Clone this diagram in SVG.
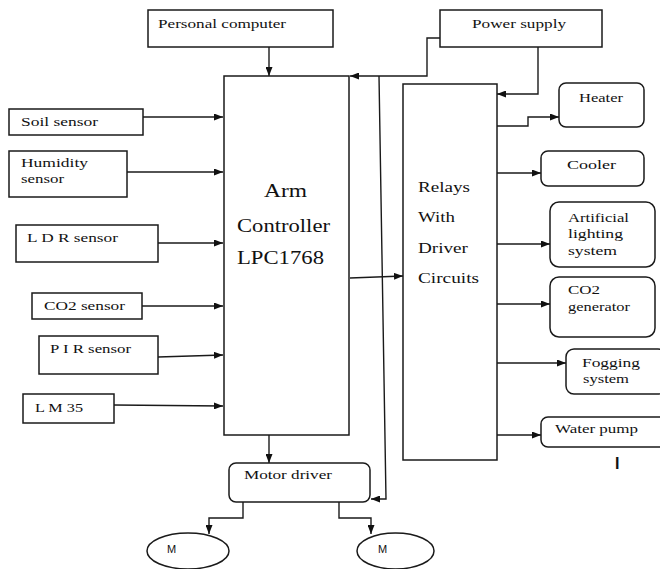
<svg xmlns="http://www.w3.org/2000/svg" width="660" height="569" viewBox="0 0 660 569">
<style>
.box{fill:#fff;stroke:#1a1a1a;stroke-width:1.5}
.t{font-family:'Liberation Serif','DejaVu Serif',serif;font-size:13px;fill:#111}
.big{font-size:18px}
.mid{font-size:14.5px}
.m{font-family:'Liberation Sans',Arial,sans-serif;font-size:11px;fill:#111}
.c{fill:none;stroke:#1a1a1a;stroke-width:1.4}
</style>
<defs>
<marker id="ah" markerUnits="userSpaceOnUse" markerWidth="9" markerHeight="7" refX="9" refY="3.5" orient="auto">
<path d="M0,0 L9,3.5 L0,7 z" fill="#111"/>
</marker>
</defs>
<rect width="660" height="569" fill="#fff"/>

<g id="connectors" class="c" marker-end="url(#ah)">
<path d="M269,47 V76"/>
<path d="M143,117 H223"/>
<path d="M127,172 H223"/>
<path d="M158,243 H223"/>
<path d="M142,306 H223"/>
<path d="M158,357 L223,355"/>
<path d="M114,405 L223,406"/>
<path d="M269,435 V463"/>
<path d="M440,38 H427 V76 H350"/>
<path d="M379,76 L386,499 H371"/>
<path d="M538,47 V94 H497"/>
<path d="M350,278 L403,276"/>
<path d="M497,126 H528 V117 H559"/>
<path d="M497,173 H541"/>
<path d="M497,244 H550"/>
<path d="M497,304 H550"/>
<path d="M497,363 H566"/>
<path d="M497,435 H541"/>
<path d="M243,502 V518 H209 V534"/>
<path d="M339,502 V518 H371 V534"/>
</g>

<g id="personal-computer">
<rect class="box" x="148" y="10" width="185" height="37"/>
<text class="t" font-family="Liberation Serif, serif" x="158" y="28" textLength="128" lengthAdjust="spacingAndGlyphs">Personal computer</text>
</g>
<g id="power-supply">
<rect class="box" x="440" y="10" width="162" height="37"/>
<text class="t" x="472" y="28" textLength="94" lengthAdjust="spacingAndGlyphs">Power supply</text>
</g>
<g id="soil-sensor">
<rect class="box" x="9" y="109" width="134" height="26"/>
<text class="t" x="21" y="126" textLength="77" lengthAdjust="spacingAndGlyphs">Soil sensor</text>
</g>
<g id="humidity-sensor">
<rect class="box" x="9" y="151" width="118" height="46"/>
<text class="t" x="21" y="167" textLength="67" lengthAdjust="spacingAndGlyphs">Humidity</text>
<text class="t" x="21" y="183" textLength="43" lengthAdjust="spacingAndGlyphs">sensor</text>
</g>
<g id="ldr-sensor">
<rect class="box" x="16" y="225" width="142" height="37"/>
<text class="t" x="27" y="242" textLength="91" lengthAdjust="spacingAndGlyphs">L D R  sensor</text>
</g>
<g id="co2-sensor">
<rect class="box" x="32" y="293" width="110" height="26"/>
<text class="t" x="44" y="310" textLength="81" lengthAdjust="spacingAndGlyphs">CO2 sensor</text>
</g>
<g id="pir-sensor">
<rect class="box" x="39" y="336" width="119" height="38"/>
<text class="t" x="50" y="353" textLength="81" lengthAdjust="spacingAndGlyphs">P I R sensor</text>
</g>
<g id="lm35">
<rect class="box" x="23" y="394" width="91" height="29"/>
<text class="t" x="35" y="412" textLength="48" lengthAdjust="spacingAndGlyphs">L M 35</text>
</g>
<g id="arm-controller">
<rect class="box" x="224" y="76" width="125" height="359"/>
<text class="t big" x="264" y="197" textLength="43" lengthAdjust="spacingAndGlyphs">Arm</text>
<text class="t big" x="237" y="232" textLength="93" lengthAdjust="spacingAndGlyphs">Controller</text>
<text class="t big" x="237" y="264" textLength="87" lengthAdjust="spacingAndGlyphs">LPC1768</text>
</g>
<g id="relays">
<rect class="box" x="403" y="84" width="94" height="376"/>
<text class="t mid" x="418" y="192" textLength="52" lengthAdjust="spacingAndGlyphs">Relays</text>
<text class="t mid" x="418" y="222" textLength="37" lengthAdjust="spacingAndGlyphs">With</text>
<text class="t mid" x="418" y="253" textLength="50" lengthAdjust="spacingAndGlyphs">Driver</text>
<text class="t mid" x="418" y="283" textLength="61" lengthAdjust="spacingAndGlyphs">Circuits</text>
</g>
<g id="heater">
<rect class="box" x="559" y="83" width="85" height="44" rx="7"/>
<text class="t" x="579" y="102" textLength="44" lengthAdjust="spacingAndGlyphs">Heater</text>
</g>
<g id="cooler">
<rect class="box" x="541" y="151" width="103" height="35" rx="7"/>
<text class="t" x="567" y="169" textLength="49" lengthAdjust="spacingAndGlyphs">Cooler</text>
</g>
<g id="artificial-lighting">
<rect class="box" x="550" y="202" width="105" height="65" rx="9"/>
<text class="t" x="568" y="222" textLength="61" lengthAdjust="spacingAndGlyphs">Artificial</text>
<text class="t" x="568" y="238" textLength="55" lengthAdjust="spacingAndGlyphs">lighting</text>
<text class="t" x="568" y="255" textLength="49" lengthAdjust="spacingAndGlyphs">system</text>
</g>
<g id="co2-generator">
<rect class="box" x="550" y="277" width="105" height="60" rx="9"/>
<text class="t" x="568" y="294" textLength="32" lengthAdjust="spacingAndGlyphs">CO2</text>
<text class="t" x="568" y="311" textLength="62" lengthAdjust="spacingAndGlyphs">generator</text>
</g>
<g id="fogging-system">
<rect class="box" x="566" y="349" width="100" height="45" rx="8"/>
<text class="t" x="582" y="367" textLength="58" lengthAdjust="spacingAndGlyphs">Fogging</text>
<text class="t" x="583" y="383" textLength="46" lengthAdjust="spacingAndGlyphs">system</text>
</g>
<g id="water-pump">
<rect class="box" x="541" y="417" width="125" height="30" rx="7"/>
<text class="t" x="555" y="433" textLength="83" lengthAdjust="spacingAndGlyphs">Water pump</text>
</g>
<g id="motor-driver">
<rect class="box" x="229" y="463" width="141" height="39" rx="7"/>
<text class="t" x="244" y="479" textLength="88" lengthAdjust="spacingAndGlyphs">Motor driver</text>
</g>
<g id="motor-1">
<ellipse class="box" cx="188" cy="551" rx="41" ry="18"/>
<text class="m" x="167" y="553">M</text>
</g>
<g id="motor-2">
<ellipse class="box" cx="395.5" cy="551" rx="38.5" ry="18"/>
<text class="m" x="378" y="553">M</text>
</g>
<text x="615" y="469" font-family="Liberation Sans, Arial, sans-serif" font-size="16" font-weight="bold" fill="#111">I</text>
</svg>
